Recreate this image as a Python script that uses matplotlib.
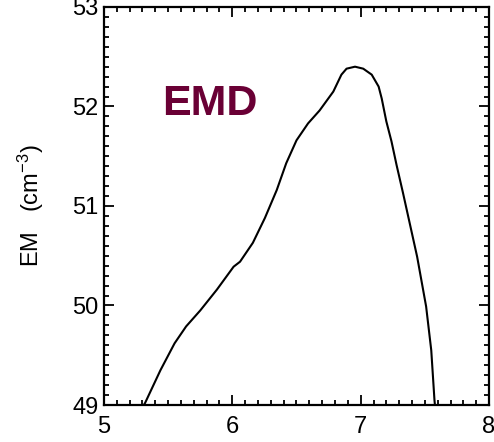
import numpy as np
import matplotlib.pyplot as plt
from matplotlib.ticker import MultipleLocator

plt.rcParams['font.family'] = ['Liberation Sans', 'DejaVu Sans']
plt.rcParams['mathtext.fontset'] = 'custom'
plt.rcParams['mathtext.rm'] = 'Liberation Sans'
plt.rcParams['mathtext.it'] = 'Liberation Sans'

# log T vs EM values
log_t = [5.30, 5.32, 5.44, 5.55, 5.64, 5.75, 5.88, 6.01, 6.06, 6.16, 6.254, 6.346,
         6.42, 6.50, 6.59, 6.68, 6.787, 6.85, 6.89, 6.956, 7.02, 7.086, 7.14,
         7.164, 7.20, 7.24, 7.28, 7.33, 7.44, 7.51, 7.55, 7.575, 7.58]
em = [48.98, 49.02, 49.35, 49.62, 49.79, 49.95, 50.16, 50.39, 50.44, 50.63, 50.88, 51.16,
      51.43, 51.66, 51.83, 51.96, 52.15, 52.32, 52.38, 52.40, 52.38, 52.32, 52.20,
      52.08, 51.85, 51.65, 51.41, 51.13, 50.49, 49.99, 49.55, 49.05, 48.98]

x_ticks = [5, 6, 7, 8]
y_ticks = [49, 50, 51, 52, 53]

fig = plt.figure(figsize=(4.94, 4.42), dpi=100)
ax = fig.add_axes([0.2105, 0.0837, 0.7794, 0.9005])

ax.plot(log_t, em, color="black", lw=1.5)

ax.set_xlim(5, 8)
ax.set_ylim(49, 53)
ax.set_xticks(x_ticks)
ax.set_yticks(y_ticks)
ax.xaxis.set_minor_locator(MultipleLocator(0.1))
ax.yaxis.set_minor_locator(MultipleLocator(0.1))
ax.tick_params(which="both", direction="in", top=True, right=True, width=1.3)
ax.tick_params(which="major", length=7)
ax.tick_params(which="minor", length=3.5)
ax.tick_params(axis="x", which="major", pad=8, labelsize=17)
ax.tick_params(axis="y", which="major", pad=4, labelsize=17)
for s in ax.spines.values():
    s.set_linewidth(1.6)

ax.set_ylabel("EM   (cm$^{-3}$)", fontsize=17)
ax.yaxis.set_label_coords(-0.15, 0.5)
ax.text(0.152, 0.728, "EMD", transform=ax.transAxes, fontsize=31,
        fontweight="bold", color="#6a0035")

fig.savefig("out.png", dpi=100)
